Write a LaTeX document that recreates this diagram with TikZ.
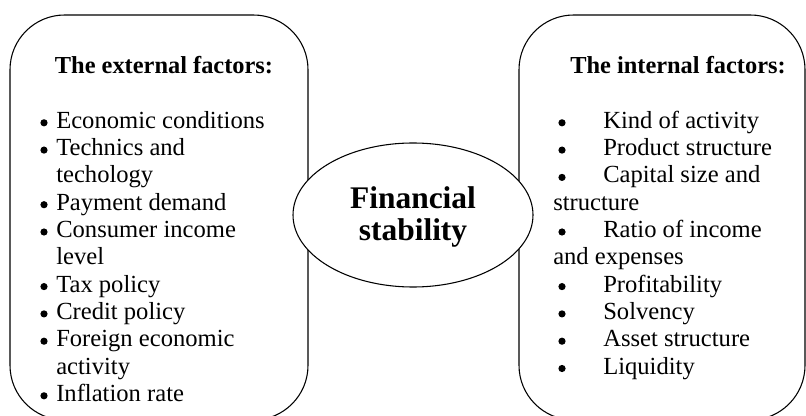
\documentclass[tikz,border=0pt]{standalone}
\usepackage{fontspec}
\setmainfont{Liberation Serif}
\begin{document}
\begin{tikzpicture}[x=0.75pt,y=-0.75pt,
  factorbox/.style={draw=black,line width=0.8pt,rounded corners=41pt},
  item/.style={anchor=base west,inner sep=0pt,font=\fontsize{18.45}{20}\selectfont},
  head/.style={anchor=base,inner sep=0pt,font=\fontsize{18.3}{20}\selectfont\bfseries},
  bul/.style={circle,fill=black,inner sep=0pt,minimum size=5.4pt},
  centreline/.style={draw=black,fill=white,line width=0.8pt},
  centretext/.style={anchor=base,inner sep=0pt,font=\fontsize{23.6}{23.6}\selectfont\bfseries}]
\useasboundingbox (0,0) rectangle (806,416);
\clip (0,0) rectangle (806,416);
\fill[white] (0,0) rectangle (806,416);
% boxes
\draw[factorbox] (10,15) rectangle (308,420);
\draw[factorbox] (519,15) rectangle (805,420);
% headings
\node[head] (lh) at (164,74) {The external factors:};
\node[head] (rh) at (678,74) {The internal factors:};
% left items
\node[bul] (lb0) at (44,122.8) {};
\node[item] (l0) at (56,128.3) {Economic conditions};
\node[bul] (lb1) at (44,150.1) {};
\node[item] (l1) at (56,155.6) {Technics and};
\node[item] (l2) at (56,182.9) {techology};
\node[bul] (lb3) at (44,204.7) {};
\node[item] (l3) at (56,210.2) {Payment demand};
\node[bul] (lb4) at (44,232.0) {};
\node[item] (l4) at (56,237.5) {Consumer income};
\node[item] (l5) at (56,264.8) {level};
\node[bul] (lb6) at (44,286.6) {};
\node[item] (l6) at (56,292.1) {Tax policy};
\node[bul] (lb7) at (44,313.9) {};
\node[item] (l7) at (56,319.4) {Credit policy};
\node[bul] (lb8) at (44,341.2) {};
\node[item] (l8) at (56,346.7) {Foreign economic};
\node[item] (l9) at (56,374.0) {activity};
\node[bul] (lb10) at (44,395.8) {};
\node[item] (l10) at (56,401.3) {Inflation rate};
% right items
\node[bul] (rb0) at (562,122.8) {};
\node[item] (r0) at (603,128.3) {Kind of activity};
\node[bul] (rb1) at (562,150.1) {};
\node[item] (r1) at (603,155.6) {Product structure};
\node[bul] (rb2) at (562,177.4) {};
\node[item] (r2) at (603,182.9) {Capital size and};
\node[item] (r3) at (553,210.2) {structure};
\node[bul] (rb4) at (562,232.0) {};
\node[item] (r4) at (603,237.5) {Ratio of income};
\node[item] (r5) at (553,264.8) {and expenses};
\node[bul] (rb6) at (562,286.6) {};
\node[item] (r6) at (603,292.1) {Profitability};
\node[bul] (rb7) at (562,313.9) {};
\node[item] (r7) at (603,319.4) {Solvency};
\node[bul] (rb8) at (562,341.2) {};
\node[item] (r8) at (603,346.7) {Asset structure};
\node[bul] (rb9) at (562,368.5) {};
\node[item] (r9) at (603,374.0) {Liquidity};
% centre
\coordinate (fsc) at (413,215);
\draw[centreline] (fsc) ellipse [x radius=120, y radius=72];
\node[centretext] (fs1) at (413,209) {Financial};
\node[centretext] (fs2) at (413,240.5) {stability};
\end{tikzpicture}
\end{document}
